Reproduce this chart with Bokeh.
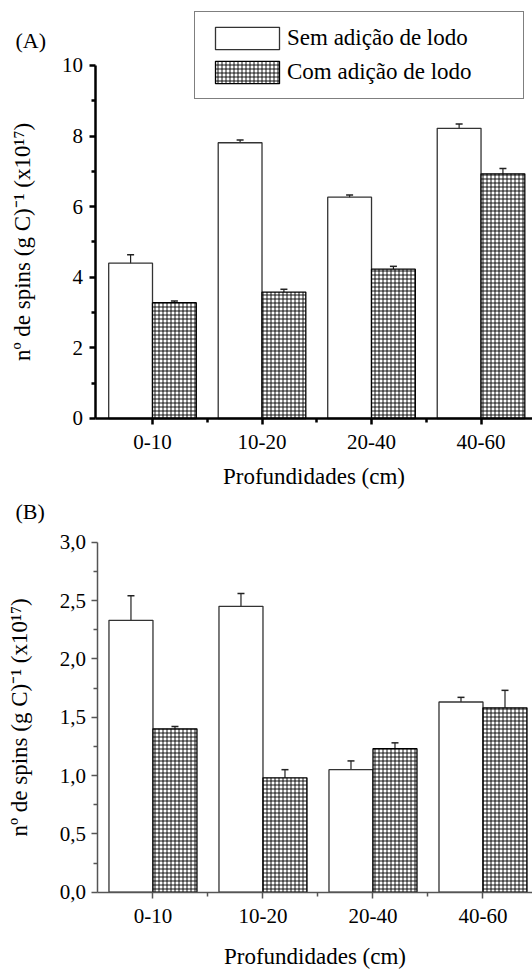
from bokeh.plotting import figure
from bokeh.models import (Range1d, FixedTicker, Whisker, TeeHead, ColumnDataSource,
                          Legend, LegendItem, Label)
from bokeh.layouts import column
from bokeh.embed import file_html
from bokeh.resources import INLINE

# ---------------- data ----------------
categories = ["0-10", "10-20", "20-40", "40-60"]
series_names = ["Sem adição de lodo", "Com adição de lodo"]

# Panel (A)
a_sem = [4.40, 7.81, 6.27, 8.22]
a_sem_err = [0.24, 0.08, 0.06, 0.12]
a_com = [3.28, 3.58, 4.23, 6.93]
a_com_err = [0.05, 0.08, 0.08, 0.15]
a_yticks = [0, 2, 4, 6, 8, 10]
a_yminor = [1, 3, 5, 7, 9]

# Panel (B)
b_sem = [2.33, 2.45, 1.05, 1.63]
b_sem_err = [0.21, 0.11, 0.075, 0.04]
b_com = [1.40, 0.98, 1.23, 1.58]
b_com_err = [0.02, 0.07, 0.05, 0.15]
b_yticks = [0, 0.5, 1, 1.5, 2, 2.5, 3]
b_ytick_labels = ["0,0", "0,5", "1,0", "1,5", "2,0", "2,5", "3,0"]
b_yminor = [0.25, 0.75, 1.25, 1.75, 2.25, 2.75]

y_label = "nº de spins (g C)⁻¹ (x10¹⁷)"
x_label = "Profundidades (cm)"

FONT = "Liberation Serif"
BAR_W = 0.4


def make_panel(sem, sem_err, com, com_err, height, x_range, y_range, x_bounds, y_bounds,
               yticks, yminor, ytick_overrides, axis_w, axis_col, tag, tag_y,
               ylabel_standoff, xlabel_standoff, with_legend):
    p = figure(width=532, height=height, output_backend="svg", toolbar_location=None,
               x_range=Range1d(*x_range), y_range=Range1d(*y_range))
    p.min_border_top = p.min_border_bottom = p.min_border_left = p.min_border_right = 0
    p.outline_line_color = None
    p.grid.visible = False
    p.background_fill_color = "white"
    p.border_fill_color = "white"

    idx = list(range(len(categories)))
    x_sem = [i - BAR_W / 2 for i in idx]
    x_com = [i + BAR_W / 2 for i in idx]

    src_sem = ColumnDataSource(dict(x=x_sem, top=sem,
                                    upper=[v + e for v, e in zip(sem, sem_err)],
                                    lower=[v - e for v, e in zip(sem, sem_err)]))
    src_com = ColumnDataSource(dict(x=x_com, top=com,
                                    upper=[v + e for v, e in zip(com, com_err)],
                                    lower=[v - e for v, e in zip(com, com_err)]))

    r_sem = p.vbar(x="x", top="top", bottom=0, width=BAR_W, source=src_sem,
                   fill_color="white", line_color="#333333", line_width=1.3)
    r_com = p.vbar(x="x", top="top", bottom=0, width=BAR_W, source=src_com,
                   fill_color="white", line_color="black", line_width=1.3,
                   hatch_pattern="cross", hatch_color="black", hatch_scale=4,
                   hatch_weight=0.9)

    for src in (src_sem, src_com):
        w = Whisker(source=src, base="x", upper="upper", lower="lower",
                    line_color="#222222", line_width=1.2,
                    upper_head=TeeHead(size=7, line_color="#222222", line_width=1.5),
                    lower_head=TeeHead(size=7, line_color="#222222", line_width=1.5))
        p.add_layout(w)

    # axes (placed inside the plotting area at fixed data locations)
    xa, ya = p.xaxis[0], p.yaxis[0]
    xa.ticker = FixedTicker(ticks=idx, minor_ticks=[i + 0.5 for i in idx[:-1]])
    xa.major_label_overrides = {i: c for i, c in zip(idx, categories)}
    ya.ticker = FixedTicker(ticks=yticks, minor_ticks=yminor)
    if ytick_overrides:
        ya.major_label_overrides = ytick_overrides
    xa.bounds = x_bounds
    ya.bounds = y_bounds
    xa.fixed_location = y_bounds[0]
    ya.fixed_location = x_bounds[0]

    for ax in (xa, ya):
        ax.axis_line_width = axis_w
        ax.axis_line_color = axis_col
        ax.major_tick_line_color = axis_col
        ax.minor_tick_line_color = axis_col
        ax.major_tick_line_width = axis_w
        ax.minor_tick_line_width = axis_w
        ax.major_tick_out = 6
        ax.major_tick_in = 0
        ax.minor_tick_out = 4
        ax.minor_tick_in = 0
        ax.major_label_text_font = FONT
        ax.major_label_text_font_size = "21px"
        ax.major_label_text_color = "black"
        ax.axis_label_text_font = FONT
        ax.axis_label_text_font_size = "23px"
        ax.axis_label_text_font_style = "normal"
        ax.axis_label_text_color = "black"

    ya.axis_label = y_label
    xa.axis_label = x_label
    ya.major_label_standoff = 6
    xa.major_label_standoff = 11
    ya.axis_label_standoff = ylabel_standoff
    xa.axis_label_standoff = xlabel_standoff

    p.add_layout(Label(x=15, y=height - tag_y, x_units="screen", y_units="screen",
                       text=tag, text_font=FONT, text_font_size="22px",
                       text_baseline="middle", text_align="left", text_color="black"))

    if with_legend:
        legend = Legend(items=[LegendItem(label=series_names[0], renderers=[r_sem]),
                               LegendItem(label=series_names[1], renderers=[r_com])],
                        location=(194, height - 99), orientation="vertical",
                        glyph_width=80, glyph_height=28, spacing=6, padding=12,
                        label_standoff=0, label_width=224, label_height=28,
                        label_text_font=FONT, label_text_font_size="23px",
                        label_text_color="black",
                        border_line_color="black", border_line_width=1,
                        background_fill_color="white", background_fill_alpha=1.0,
                        margin=0)
        p.add_layout(legend, "center")
    return p


pA = make_panel(a_sem, a_sem_err, a_com, a_com_err, 490,
                (-1.388, 3.47), (-2.04, 11.84), (-0.525, 3.47), (0, 10),
                a_yticks, a_yminor, None, 2.5, "black", "(A)", 40, 25, 11, True)

pB = make_panel(b_sem, b_sem_err, b_com, b_com_err, 481,
                (-1.386, 3.45), (-0.68, 3.443), (-0.50, 3.45), (0, 3),
                b_yticks, b_yminor,
                {t: l for t, l in zip(b_yticks, b_ytick_labels)}, 1.5, "#555555",
                "(B)", 21, 24, 17, False)

layout = column(pA, pB, spacing=0)

with open("out.html", "w") as f:
    f.write(file_html(layout, INLINE))
